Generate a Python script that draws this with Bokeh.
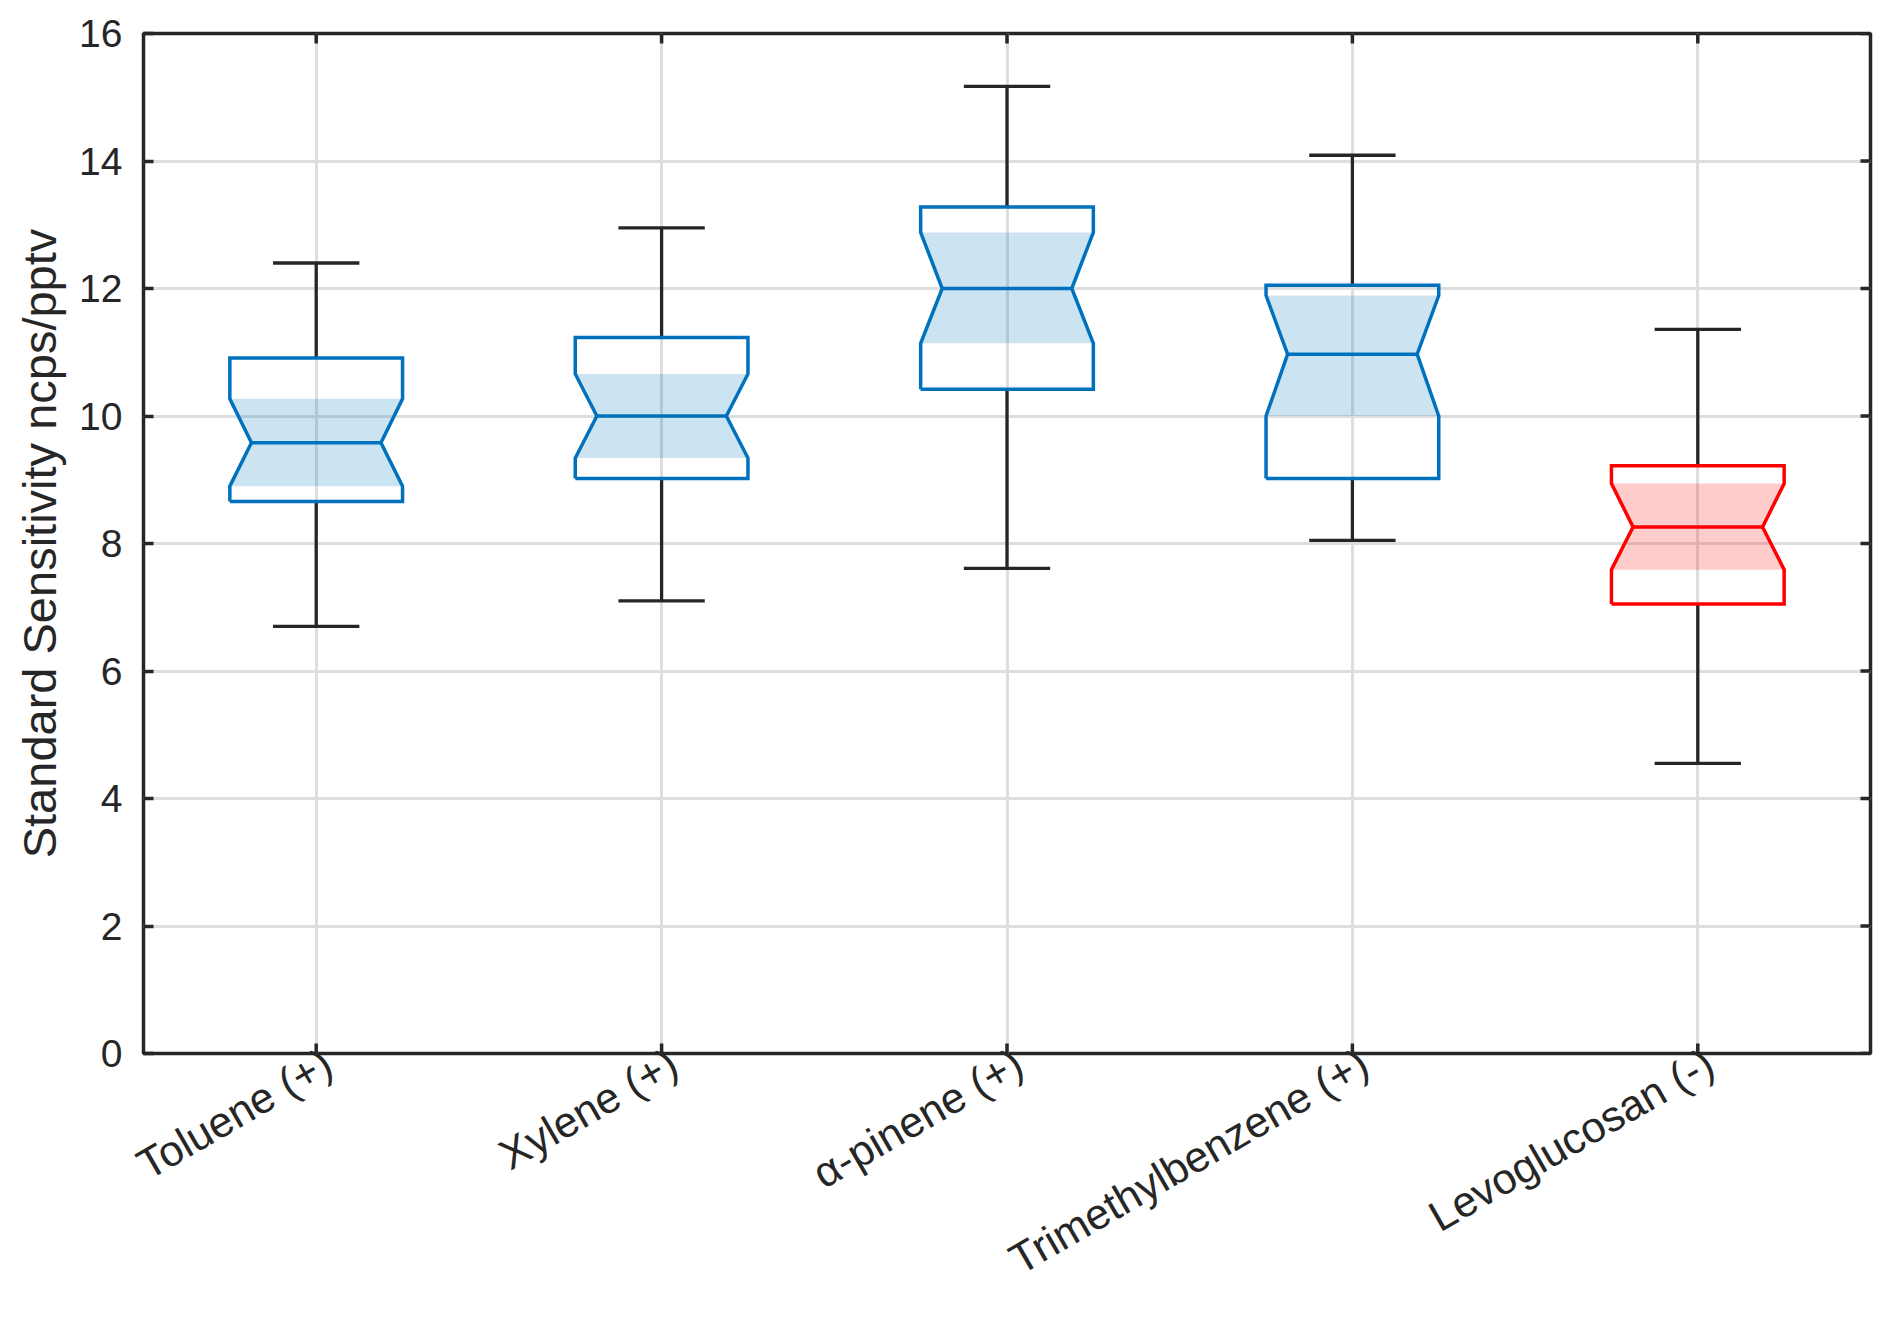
import math
from bokeh.plotting import figure
from bokeh.models import ColumnDataSource, FixedTicker, Range1d
from bokeh.embed import file_html
from bokeh.resources import INLINE

# ---- data ----
categories = ["Toluene (+)", "Xylene (+)", "\u03b1-pinene (+)", "Trimethylbenzene (+)", "Levoglucosan (-)"]
positions = [1, 2, 3, 4, 5]
whisker_low = [6.70, 7.10, 7.61, 8.05, 4.55]
q1 = [8.66, 9.02, 10.42, 9.02, 7.05]
median = [9.58, 10.00, 12.00, 10.97, 8.26]
q3 = [10.91, 11.23, 13.28, 12.05, 9.22]
whisker_high = [12.40, 12.95, 15.17, 14.09, 11.36]
notch_low = [8.90, 9.34, 11.14, 10.00, 7.59]
notch_high = [10.27, 10.66, 12.88, 11.89, 8.94]
box_colors = ["#0072BD", "#0072BD", "#0072BD", "#0072BD", "#FF0000"]
y_ticks = [0, 2, 4, 6, 8, 10, 12, 14, 16]

# ---- styling ----
X0, X1 = 0.5, 5.5
Y0, Y1 = 0, 16
W, H = 1876, 1308
LEFT, TOP, RIGHT, BOTTOM = 143, 33, 6, 255
HALF = 0.25      # half box width
NOTCH = 0.1875   # half width at the notch waist
CAP = 0.125      # half whisker-cap width
AX = "#262626"
FONT = "Liberation Sans"
TICK_PX = 10
frame_w = W - LEFT - RIGHT
frame_h = H - TOP - BOTTOM
tick_dx = TICK_PX * (X1 - X0) / frame_w
tick_dy = TICK_PX * (Y1 - Y0) / frame_h
LABEL_SHIFT = 12 * (X1 - X0) / frame_w   # small horizontal nudge of rotated labels

p = figure(width=W, height=H,
           x_range=Range1d(X0, X1), y_range=Range1d(Y0, Y1),
           output_backend="svg", toolbar_location=None,
           min_border_left=LEFT, min_border_right=RIGHT,
           min_border_top=TOP, min_border_bottom=BOTTOM)
p.background_fill_color = "white"
p.border_fill_color = "white"
p.outline_line_color = AX
p.outline_line_width = 3.5

# grids
p.xgrid.ticker = FixedTicker(ticks=positions)
p.ygrid.ticker = FixedTicker(ticks=y_ticks)
for g in (p.xgrid, p.ygrid):
    g.grid_line_color = "#DEDEDE"
    g.grid_line_width = 3

# build shapes from data
fill_xs, fill_ys, out_xs, out_ys = [], [], [], []
for x, a, nl, m, nh, b in zip(positions, q1, notch_low, median, notch_high, q3):
    fill_xs.append([x - HALF, x - NOTCH, x - HALF, x + HALF, x + NOTCH, x + HALF])
    fill_ys.append([nl, m, nh, nh, m, nl])
    out_xs.append([x - HALF, x + HALF, x + HALF, x + NOTCH, x + HALF, x + HALF,
                   x - HALF, x - HALF, x - NOTCH, x - HALF, x - HALF])
    out_ys.append([a, a, nl, m, nh, b, b, nh, m, nl, a])

shape_src = ColumnDataSource(dict(fxs=fill_xs, fys=fill_ys, oxs=out_xs, oys=out_ys, c=box_colors))
p.patches("fxs", "fys", source=shape_src, fill_color="c", fill_alpha=0.2, line_color=None)

wsrc = ColumnDataSource(dict(
    x=positions, lo=whisker_low, q1=q1, q3=q3, hi=whisker_high, med=median,
    capl=[x - CAP for x in positions], capr=[x + CAP for x in positions],
    ml=[x - NOTCH for x in positions], mr=[x + NOTCH for x in positions], c=box_colors))
# whiskers
p.segment(x0="x", y0="q3", x1="x", y1="hi", source=wsrc, line_color=AX, line_width=3.3)
p.segment(x0="x", y0="q1", x1="x", y1="lo", source=wsrc, line_color=AX, line_width=3.3)
p.segment(x0="capl", y0="hi", x1="capr", y1="hi", source=wsrc, line_color=AX, line_width=3.3)
p.segment(x0="capl", y0="lo", x1="capr", y1="lo", source=wsrc, line_color=AX, line_width=3.3)
# box outlines and medians
p.multi_line("oxs", "oys", source=shape_src, line_color="c", line_width=3.5, line_join="miter")
p.segment(x0="ml", y0="med", x1="mr", y1="med", source=wsrc, line_color="c", line_width=3.5)

# inward tick marks on bottom / top (categories) and right (y ticks)
xt = ColumnDataSource(dict(x=positions,
                           b0=[Y0] * len(positions), b1=[Y0 + tick_dy] * len(positions),
                           t0=[Y1 - tick_dy] * len(positions), t1=[Y1] * len(positions)))
p.segment(x0="x", y0="b0", x1="x", y1="b1", source=xt, line_color=AX, line_width=3.5)
p.segment(x0="x", y0="t0", x1="x", y1="t1", source=xt, line_color=AX, line_width=3.5)
yt = ColumnDataSource(dict(y=y_ticks, r0=[X1 - tick_dx] * len(y_ticks), r1=[X1] * len(y_ticks)))
p.segment(x0="r0", y0="y", x1="r1", y1="y", source=yt, line_color=AX, line_width=3.5)

# bottom axis: rotated category labels only (tick marks drawn above)
label_pos = [x + LABEL_SHIFT for x in positions]
xa = p.xaxis[0]
xa.ticker = FixedTicker(ticks=label_pos)
xa.major_label_overrides = {lp: lab for lp, lab in zip(label_pos, categories)}
xa.major_label_orientation = math.pi / 6
xa.major_label_standoff = 6
xa.axis_line_color = None
xa.major_tick_line_color = None
xa.minor_tick_line_color = None
xa.major_tick_in = 0
xa.major_tick_out = 0
xa.major_label_text_font = FONT
xa.major_label_text_font_size = "43px"
xa.major_label_text_color = AX

ya = p.yaxis[0]
ya.ticker = FixedTicker(ticks=y_ticks)
ya.axis_label = "Standard Sensitivity ncps/pptv"
ya.axis_label_text_font_size = "47px"
ya.axis_label_text_font_style = "normal"
ya.axis_label_text_font = FONT
ya.axis_label_text_color = AX
ya.axis_label_standoff = 10
ya.major_label_standoff = 21
ya.axis_line_color = None
ya.major_tick_in = TICK_PX
ya.major_tick_out = 0
ya.major_tick_line_color = AX
ya.major_tick_line_width = 3.5
ya.minor_tick_line_color = None
ya.major_label_text_font = FONT
ya.major_label_text_font_size = "39px"
ya.major_label_text_color = AX

open("out.html", "w").write(file_html(p, INLINE))
